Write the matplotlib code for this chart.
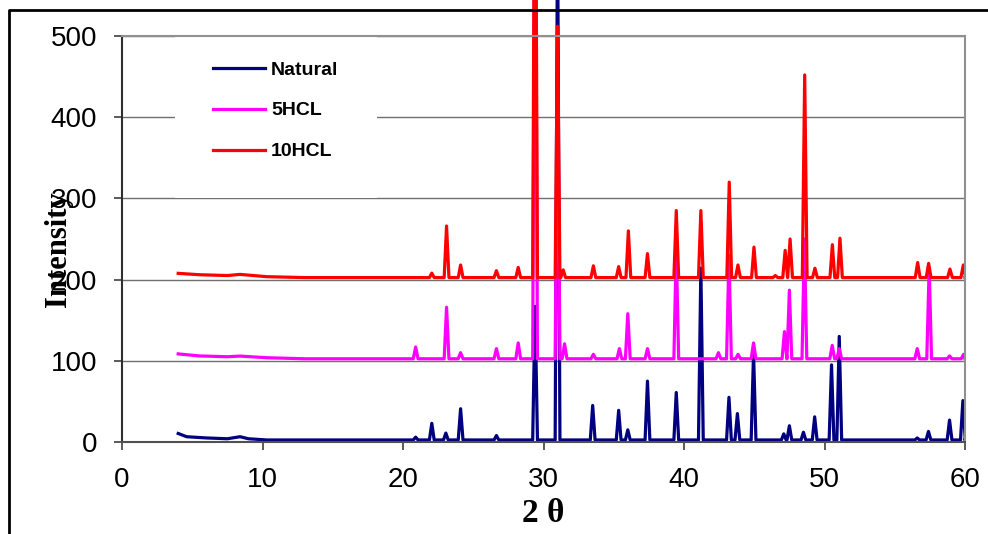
import numpy as np
import matplotlib.pyplot as plt
from matplotlib.lines import Line2D
from matplotlib.patches import Rectangle

labels = ["Natural", "5HCL", "10HCL"]
colors = ["#000080", "#FF00FF", "#FF0000"]
offsets = [0, 100, 200]

# low-angle background before the first reflection (2theta, counts)
natural_bg_x = [4.0, 4.6, 6.0, 7.5, 8.4, 9.0, 10.3]
natural_bg_y = [10.5, 6.5, 5.0, 4.0, 6.5, 4.0, 2.5]
hcl5_bg_x = [4.0, 5.5, 7.5, 8.4, 10.3, 13.0]
hcl5_bg_y = [8.5, 6.0, 5.0, 5.8, 3.8, 2.5]
hcl10_bg_x = [4.0, 5.5, 7.5, 8.4, 10.3, 13.0]
hcl10_bg_y = [7.7, 6.0, 5.0, 6.4, 3.6, 2.5]

# reflections: position (2theta) and apex counts
natural_pk_x = [20.9, 22.05, 23.05, 24.1, 26.65, 29.4, 31.0, 33.5, 35.35, 36.0,
                37.4, 39.45, 41.2, 43.2, 43.8, 44.95, 47.1, 47.5, 48.5, 49.3,
                50.5, 51.05, 56.6, 57.4, 58.9, 59.85]
natural_pk_y = [6, 23, 11, 41, 8, 167, 650, 45, 39, 15,
                75, 61, 214, 55, 35, 110, 10, 20, 12, 31,
                95, 130, 5, 13, 27, 51]

hcl5_pk_x = [20.9, 23.1, 24.1, 26.65, 28.2, 29.4, 31.0, 31.5, 33.55, 35.4,
             36.0, 37.4, 39.45, 42.45, 43.2, 43.85, 44.95, 47.15, 47.5, 48.57,
             50.55, 51.05, 56.6, 57.45, 58.9, 59.9]
hcl5_pk_y = [17, 66, 10, 15, 22, 700, 370, 21, 8, 15,
             58, 15, 140, 10, 130, 8, 22, 36, 87, 150,
             19, 15, 15, 115, 6, 8]

hcl10_pk_x = [22.05, 23.1, 24.1, 26.65, 28.2, 29.4, 31.0, 31.4, 33.55, 35.35,
              36.04, 37.4, 39.45, 41.2, 43.22, 43.84, 44.98, 46.5, 47.2, 47.55,
              48.59, 49.32, 50.56, 51.1, 56.63, 57.41, 58.93, 59.88]
hcl10_pk_y = [8, 66, 18, 11, 15, 700, 312, 12, 17, 16,
              60, 32, 85, 85, 120, 18, 40, 5, 36, 50,
              252, 14, 43, 51, 21, 20, 13, 18]

base_level = 2.5
scan_end = 60.0


def pattern(bg_x, bg_y, pk_x, pk_y, hw=0.17):
    xs, ys = list(bg_x), list(bg_y)
    for c, h in zip(pk_x, pk_y):
        xs += [c - hw, c, c + hw]
        ys += [base_level, h, base_level]
    xs.append(scan_end)
    ys.append(base_level)
    return np.array(xs), np.array(ys)


series = [
    pattern(natural_bg_x, natural_bg_y, natural_pk_x, natural_pk_y),
    pattern(hcl5_bg_x, hcl5_bg_y, hcl5_pk_x, hcl5_pk_y),
    pattern(hcl10_bg_x, hcl10_bg_y, hcl10_pk_x, hcl10_pk_y),
]

W, H = 988, 534
fig = plt.figure(figsize=(W / 100, H / 100), dpi=100)
L, R, T, B = 122, 965, 36, 442
ax = fig.add_axes([L / W, 1 - B / H, (R - L) / W, (B - T) / H])

# peaks run past the top of the plot, but not past the sides
clip = Rectangle((L / W, 0), (R - L) / W, 1, transform=fig.transFigure,
                 facecolor="none", edgecolor="none")
for (x, y), off, c, lab in zip(series, offsets, colors, labels):
    ln, = ax.plot(x, y + off, color=c, lw=2.3, label=lab)
    ln.set_clip_path(clip)

ax.set_xlim(0, 60)
ax.set_ylim(0, 500)
ax.set_xticks(range(0, 61, 10))
ax.set_yticks(range(0, 501, 100))
ax.set_axisbelow(True)
ax.yaxis.grid(True, color="#707070", lw=1.0)
ax.tick_params(direction="out", length=6, width=1.2, color="#404040",
               labelsize=20, pad=12)
for t in ax.get_xticklabels() + ax.get_yticklabels():
    t.set_family("Liberation Sans")
for s in ["top", "right"]:
    ax.spines[s].set_color("#909090")
    ax.spines[s].set_linewidth(1.5)
ax.spines["left"].set_color("#303030")
ax.spines["bottom"].set_color("#505050")
ax.spines["left"].set_linewidth(1.5)
ax.spines["bottom"].set_linewidth(1.5)

leg = ax.legend(loc="upper left", bbox_to_anchor=(175 / W, 1 - 23 / H),
                bbox_transform=fig.transFigure, frameon=True, fancybox=False,
                edgecolor="none", facecolor="white", framealpha=1,
                borderpad=1.95, borderaxespad=0, handlelength=2.7,
                handletextpad=0.3, labelspacing=1.2,
                prop=dict(family="Liberation Sans", weight="bold", size=14))
leg.set_zorder(2.4)

fig.text(58 / W, 1 - 249 / H, "Intensity", rotation=90, ha="center",
         va="center", family="Liberation Serif", weight="bold", fontsize=22)
fig.text(543 / W, 1 - 513 / H, "2 θ", ha="center", va="center",
         family="Liberation Serif", weight="bold", fontsize=24)

# outer chart frame (only left and top edges fall inside the picture)
fig.add_artist(Line2D([9 / W, 9 / W, 1.0], [0.0, 1 - 10 / H, 1 - 10 / H],
                      transform=fig.transFigure, color="black", lw=2.0,
                      zorder=5))

fig.savefig("out.png", dpi=100)
